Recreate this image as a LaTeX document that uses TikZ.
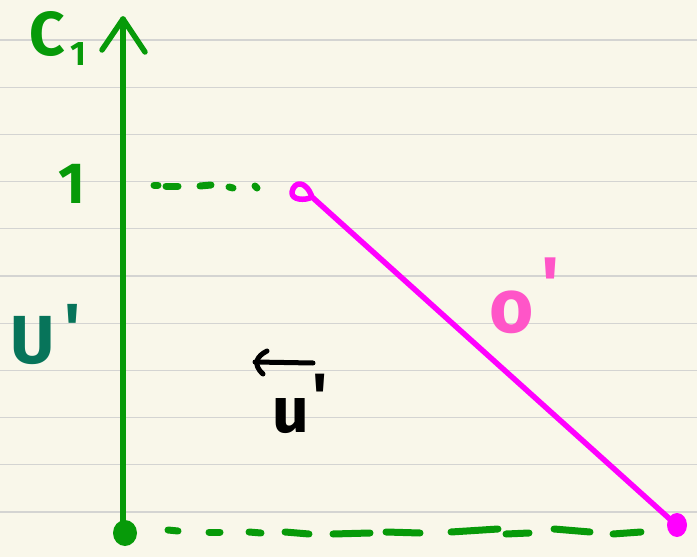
\documentclass[tikz,border=0pt]{standalone}
\usepackage{fontspec}
\setmainfont{Fira Sans}
\definecolor{paper}{HTML}{F9F7EA}
\definecolor{rule}{HTML}{D4D4D2}
\definecolor{axgreen}{HTML}{079A09}
\definecolor{teal}{HTML}{07745A}
\definecolor{mag}{HTML}{FF00FF}
\definecolor{pinklab}{HTML}{FF55C8}
\newcommand{\myprime}{\textquotesingle}
\tikzset{
  ruleline/.style={rule, line width=1.3pt},
  axisline/.style={axgreen, line width=5.5pt, line cap=round, line join=round},
  dashseg/.style={axgreen, line width=7pt, line cap=round},
  magline/.style={mag, line width=5.5pt, line cap=round, line join=round},
  lab/.style={inner sep=0pt, outer sep=0pt, font=\bfseries},
}
\begin{document}
\begin{tikzpicture}[x=1pt,y=-1pt]
\fill[paper] (0,0) rectangle (697,557);
\useasboundingbox (0,0) rectangle (697,557);
% ruled lines
\foreach \yy in {40,87.2,134.4,181.6,228.8,276,323.2,370.4,417.6,464.8,512}
  \draw[ruleline] (0,\yy) -- (697,\yy);
% axis
\coordinate (o) at (123,531);
\coordinate (top) at (123,19);
\draw[axisline] (o) -- (top);
\draw[axisline] (102,50) -- (top) -- (145,52);
\fill[axgreen] (125,533) ellipse (12pt and 13pt);
% bottom dashed
\foreach \xa/\ya/\xb/\yb in {168/530/178/531, 209/532/220/532, 249/532/261/533, 285/532/309/534,
  333/534/370/533, 386/532/420/533, 451/532/498/529, 506/534/529/533, 554/529/590/532, 613/534/641/532}
  \draw[dashseg] (\xa,\ya) -- (\xb,\yb);
% upper dotted
\foreach \xa/\ya/\xb/\yb in {154/185/158/185, 166/186/178/186, 200/186/211/185, 229/187/233/188, 255/186/257/188}
  \draw[dashseg] (\xa,\ya) -- (\xb,\yb);
% magenta line
\coordinate (p) at (312,197);
\coordinate (q) at (672,521);
\draw[magline] (p) .. controls (306,180) and (294,181) .. (292,192)
  .. controls (291,200) and (305,201) .. (p) -- (q);
\fill[mag] (677,525) ellipse (10pt and 12pt);
% labels
\node[lab, axgreen, anchor=base west] (c1) at (30,55) {\fontsize{62}{62}\selectfont C\kern5pt\raisebox{-10pt}{\fontsize{34}{34}\selectfont 1}};
\node[lab, axgreen, anchor=base west] (one) at (58,203) {\fontsize{58}{58}\selectfont 1};
\node[lab, teal, anchor=base west] (U) at (10,363) {\fontsize{68}{68}\selectfont U\kern10pt\raisebox{12pt}{\myprime}};
\node[lab, pinklab, anchor=base west] (O) at (489,332) {\fontsize{76}{76}\selectfont o\kern8pt\raisebox{22pt}{\myprime}};
\node[lab, black, anchor=base west] (u) at (272,432) {\fontsize{64}{64}\selectfont u\kern4pt\raisebox{14pt}{\myprime}};
% small arrow
\coordinate (a1) at (313,363);
\coordinate (a0) at (255,362);
\draw[black, line width=5pt, line cap=round, line join=round] (a1) -- (a0);
\draw[black, line width=5pt, line cap=round, line join=round] (267,351) .. controls (257,356) and (252,364) .. (263,374);
\end{tikzpicture}
\end{document}
